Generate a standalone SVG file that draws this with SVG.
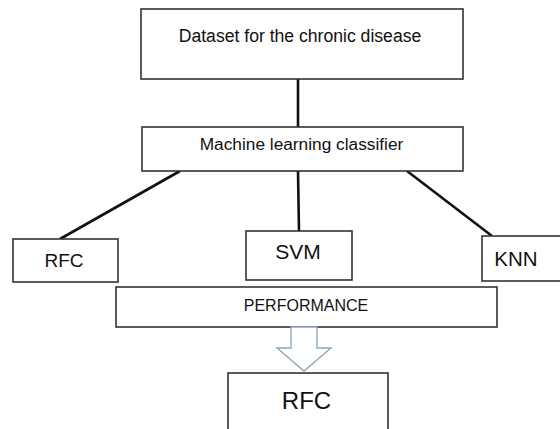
<svg xmlns="http://www.w3.org/2000/svg" width="560" height="429" viewBox="0 0 560 429">
<style>
.box{fill:#fff;stroke:#333;stroke-width:1.6}
.t{font-family:"Liberation Sans",Arial,sans-serif;fill:#111;text-anchor:middle}
.conn line{stroke:#111;stroke-width:2.6;stroke-linecap:butt}
.blk{fill:#fff;stroke:#8ea6c2;stroke-width:1.4;stroke-linejoin:miter}
</style>
<rect width="560" height="429" fill="#fff"/>
<g id="connectors" class="conn">
<line x1="298" y1="79" x2="298" y2="127"/>
<line x1="180" y1="171" x2="60" y2="239"/>
<line x1="298" y1="171" x2="299" y2="231"/>
<line x1="407" y1="171" x2="492" y2="236"/>
</g>
<g id="dataset"><rect class="box" x="141" y="9" width="322" height="70"/><text class="t" x="300" y="42" font-size="17.6">Dataset for the chronic disease</text></g>
<g id="classifier"><rect class="box" x="142" y="127" width="321" height="44"/><text class="t" x="301.5" y="150" font-size="17.3">Machine learning classifier</text></g>
<g id="rfc"><rect class="box" x="13" y="239" width="105" height="43"/><text class="t" x="64" y="267" font-size="19">RFC</text></g>
<g id="svm"><rect class="box" x="246" y="231" width="106" height="49"/><text class="t" x="298" y="259" font-size="21">SVM</text></g>
<g id="knn"><rect class="box" x="482" y="236" width="80" height="45"/><text class="t" x="516" y="266" font-size="20.5">KNN</text></g>
<g id="performance"><rect class="box" x="116" y="287" width="381" height="40"/><text class="t" x="306" y="311" font-size="16">PERFORMANCE</text></g>
<g id="arrow"><polygon class="blk" points="291,327 317,327 317,348 331,348 304,371 277,348 291,348"/></g>
<g id="result"><rect class="box" x="228" y="373" width="160" height="60"/><text class="t" x="306.5" y="409" font-size="24">RFC</text></g>
</svg>
